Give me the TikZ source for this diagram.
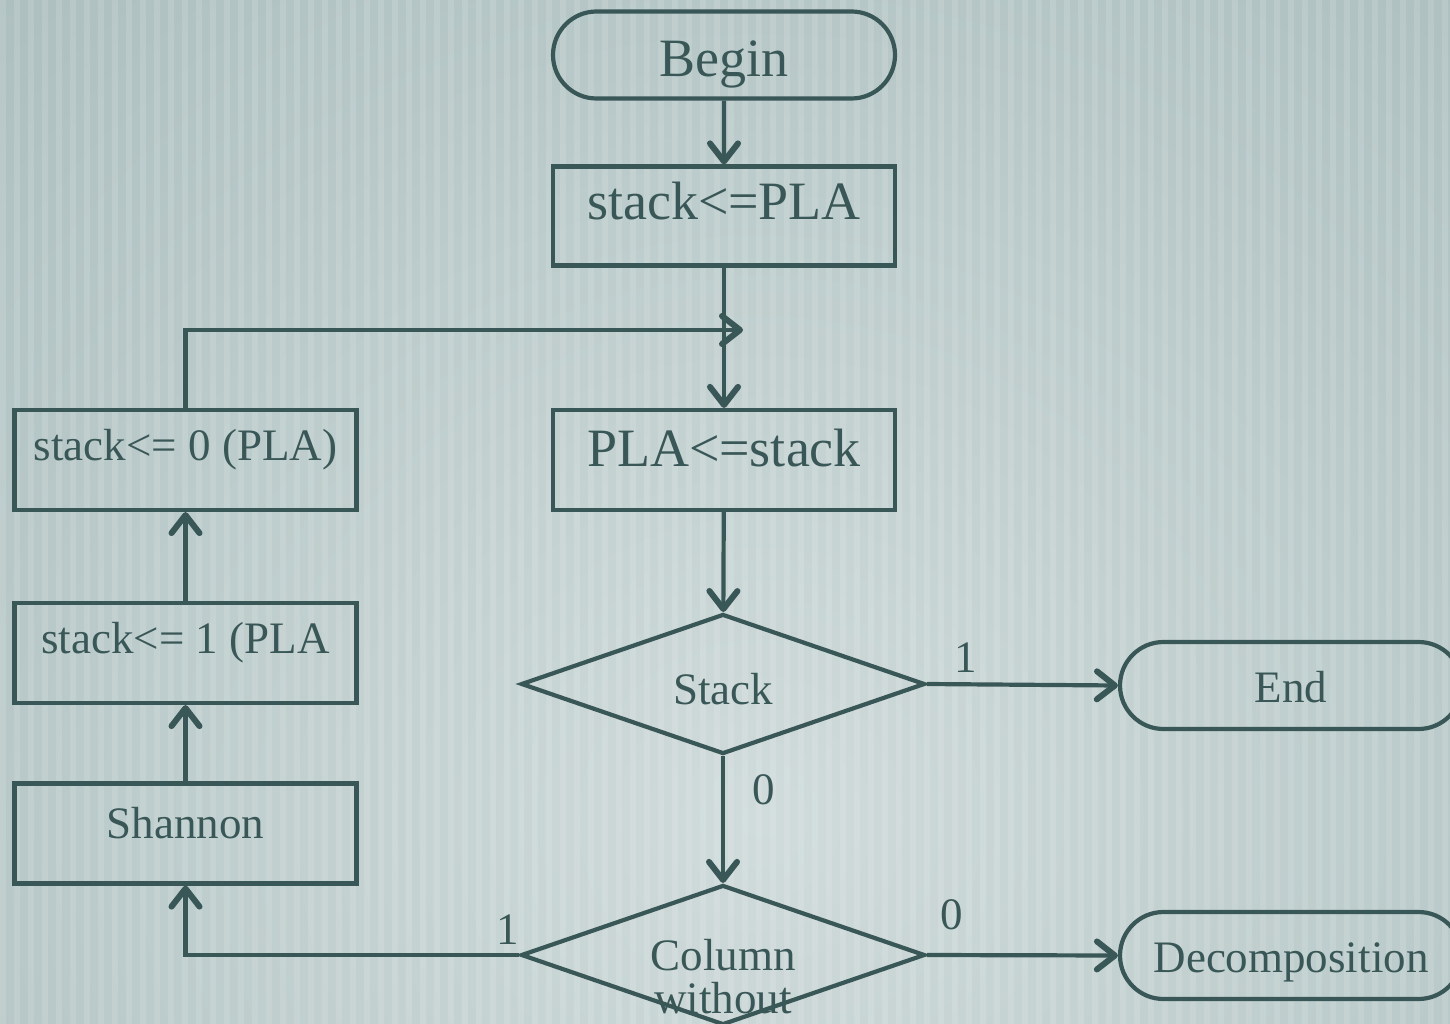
\documentclass[tikz,border=0pt]{standalone}
\usepackage{fontspec}
\setmainfont{Liberation Serif}
\usetikzlibrary{shapes.geometric,shapes.misc,arrows.meta}

\definecolor{inkgreen}{HTML}{3A5757}
\definecolor{bgouter}{HTML}{A9BCBC}
\definecolor{bginner}{HTML}{D0DBDB}

\begin{document}
\begin{tikzpicture}[x=1pt,y=-1pt,line width=4.2pt,>={Straight Barb[length=18pt,width=28pt,line width=6pt,round]}]
        \tikzstyle{every node}=[inkgreen,inner sep=0pt,text depth=0pt]
        \tikzstyle{bigtext}=[font=\fontsize{54}{60}\selectfont]
        \tikzstyle{smalltext}=[font=\fontsize{45}{42}\selectfont]
        \tikzstyle{procbox}=[draw,rectangle,minimum width=342pt,minimum height=100pt]
        \tikzstyle{termbox}=[draw,rounded rectangle,minimum width=342pt,minimum height=87pt]
        \tikzstyle{decbox}=[draw,diamond,aspect=2.9,minimum width=404pt,minimum height=140pt]
        \tikzstyle{flowline}=[draw=inkgreen,->]
        % background
        \useasboundingbox (0,0) rectangle (1450,1024);
        \begin{scope}
            \clip (0,0) rectangle (1450,1024);
            \fill[bgouter] (0,0) rectangle (1450,1024);
            \shade[inner color=bginner,outer color=bgouter] (760,820) circle (1250);
            \foreach \sx in {0,14,...,1442} \fill[white,opacity=0.12] (\sx,0) rectangle ++(6,1024);
        \end{scope}
        % main column
        \node[termbox,bigtext,text height=44pt] (begin) at (724,55) {Begin};
        \node[procbox,bigtext,minimum height=99pt,text height=8pt] (init) at (724,216) {stack<=PLA};
        \coordinate (merge) at (743,330);
        \node[procbox,bigtext,text height=12pt] (pop) at (724,460) {PLA<=stack};
        \node[decbox,smalltext,text height=40pt] (stack) at (723,684) {Stack};
        \node[decbox,smalltext,text height=0pt] (column) at (723,955)
            {\raisebox{-15pt}[0pt][0pt]{\begin{tabular}[t]{@{}c@{}}Column\\without\end{tabular}}};
        % right side
        \node[termbox,smalltext,text height=34pt] (end) at (1291,685.5) {End};
        \node[termbox,smalltext,text height=34pt] (decomp) at (1291,955.5) {Decomposition};
        % left column
        \node[procbox,smalltext,text height=10pt] (shannon) at (185.5,833.5) {Shannon};
        \node[procbox,smalltext,text height=0pt] (pushone) at (185.5,653) {stack<= 1 (PLA};
        \node[procbox,smalltext,text height=0pt] (pushzero) at (185.5,460) {stack<= 0 (PLA)};
        % branch labels
        \node[smalltext] (lblend) at (966,658) {1};
        \node[smalltext] (lblnext) at (764,790) {0};
        \node[smalltext] (lbldecomp) at (952,915) {0};
        \node[smalltext] (lblshannon) at (508,930) {1};
        % connectors
        \draw[flowline] (begin) -- (init);
        \draw[flowline] (init) -- (pop);
        \draw[flowline] (pushzero.north) |- (merge);
        \draw[flowline] (pop) -- (stack);
        \draw[flowline] (stack.east) -- (end.west);
        \draw[flowline] (stack.south) -- (column.north);
        \draw[flowline] (column.east) -- (decomp.west);
        \draw[flowline] (column.west) -| (shannon.south);
        \draw[flowline] (shannon) -- (pushone);
        \draw[flowline] (pushone) -- (pushzero);
    \end{tikzpicture}
\end{document}
